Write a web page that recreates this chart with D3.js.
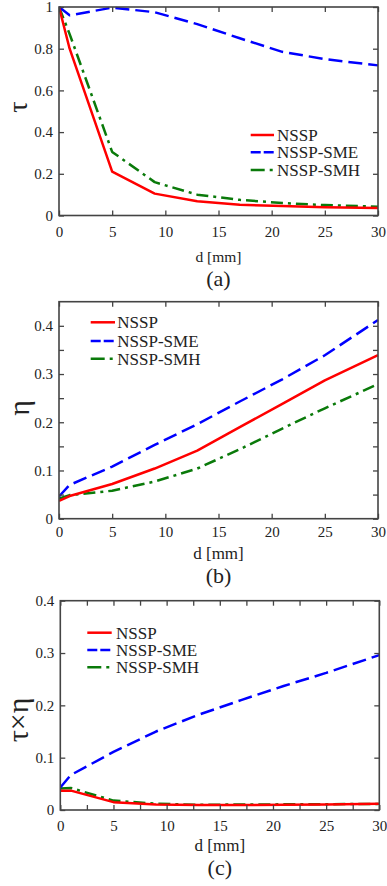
<!DOCTYPE html>
<html>
<head>
<meta charset="utf-8">
<script src="https://cdn.jsdelivr.net/npm/d3@7"></script>
<style>
  html, body { margin: 0; padding: 0; background: #fff; }
  svg { display: block; }
  text { font-family: "Liberation Serif", "Times New Roman", serif; fill: #222; }
</style>
</head>
<body>
<svg id="chart" width="387" height="886"></svg>
<script>
// ---- data ----
const dValues = [0, 1, 5, 9, 13, 17, 21, 25, 30];
const seriesNames = ["NSSP", "NSSP-SME", "NSSP-SMH"];

const tauNSSP = [1.0, 0.80, 0.21, 0.105, 0.068, 0.052, 0.045, 0.040, 0.036];
const tauSME  = [1.0, 0.96, 0.997, 0.975, 0.918, 0.85, 0.785, 0.75, 0.72];
const tauSMH  = [1.0, 0.87, 0.305, 0.16, 0.10, 0.075, 0.060, 0.050, 0.042];

const etaNSSP = [0.037, 0.047, 0.072, 0.104, 0.141, 0.19, 0.238, 0.287, 0.339];
const etaSME  = [0.046, 0.070, 0.108, 0.153, 0.196, 0.243, 0.289, 0.339, 0.412];
const etaSMH  = [0.042, 0.049, 0.058, 0.077, 0.104, 0.144, 0.187, 0.229, 0.279];

const prodNSSP = [0.037, 0.037, 0.015, 0.0105, 0.0095, 0.0095, 0.010, 0.0105, 0.0118];
const prodSME  = [0.043, 0.067, 0.111, 0.150, 0.182, 0.210, 0.237, 0.262, 0.296];
const prodSMH  = [0.041, 0.042, 0.018, 0.012, 0.010, 0.0105, 0.0108, 0.011, 0.0117];

const xTickValues = [0, 5, 10, 15, 20, 25, 30];
const xMinorTicksC = [2.5, 7.5, 12.5, 17.5, 22.5, 27.5];
const yTicksA = [0, 0.2, 0.4, 0.6, 0.8, 1];
const yTicksB = [0, 0.1, 0.2, 0.3, 0.4];
const yMinorTicksB = [0.05, 0.15, 0.25, 0.35];
const yTicksC = [0, 0.1, 0.2, 0.3, 0.4];

const xTitle = "d [mm]";
const panelLabels = ["(a)", "(b)", "(c)"];
const yTitles = ["τ", "η", "τ×η"];

// ---- styles ----
const colors = ["#ff0000", "#0000ff", "#0a7a0a"];
const dashes = [null, "14,6", "12,5,3,5"];
const legendDashes = [null, "10,3", "14,5,3,5"];
const frameColor = "#444";

const svg = d3.select("#chart");

const panels = [
  { left: 59, right: 378, top: 7, bottom: 215.5, yMax: 1, yTicks: yTicksA, yMinor: [], xMinor: [],
    data: [tauNSSP, tauSME, tauSMH], fmt: d3.format("~g"),
    legend: { x1: 250.7, x2: 274, tx: 277, rows: [135, 152.3, 170] },
    xLabelY: 231.7, xTitleY: 257, panelY: 278.5, titleFont: 15.5, yTitleX: 19, yTitleY: 107, yTitleFont: 28 },
  { left: 59, right: 378, top: 301.7, bottom: 518.7, yMax: 0.45, yTicks: yTicksB, yMinor: yMinorTicksB, xMinor: [],
    data: [etaNSSP, etaSME, etaSMH], fmt: d3.format("~g"),
    legend: { x1: 90.7, x2: 115, tx: 117.3, rows: [322.3, 341, 358.7] },
    xLabelY: 531.7, xTitleY: 553, panelY: 575, titleFont: 17, yTitleX: 20, yTitleY: 408, yTitleFont: 30 },
  { left: 60.3, right: 379.3, top: 600.7, bottom: 810, yMax: 0.4, yTicks: yTicksC, yMinor: [], xMinor: xMinorTicksC,
    data: [prodNSSP, prodSME, prodSMH], fmt: d3.format("~g"),
    legend: { x1: 87.3, x2: 111.7, tx: 116, rows: [632.7, 650, 667.3] },
    xLabelY: 825.5, xTitleY: 845.5, panelY: 867.5, titleFont: 17, yTitleX: 19, yTitleY: 720, yTitleFont: 30 }
];

panels.forEach((p, pi) => {
  const x = d3.scaleLinear().domain([0, 30]).range([p.left, p.right]);
  const y = d3.scaleLinear().domain([0, p.yMax]).range([p.bottom, p.top]);
  const g = svg.append("g");
  const w = p.right - p.left, h = p.bottom - p.top;

  const clipId = "clip" + pi;
  svg.append("clipPath").attr("id", clipId).append("rect")
    .attr("x", p.left).attr("y", p.top - 2).attr("width", w + 2).attr("height", h + 2);
  const line = d3.line().x((v, i) => x(dValues[i])).y(v => y(v));
  const lg = g.append("g").attr("clip-path", `url(#${clipId})`);
  [2, 1, 0].forEach(si => {
    lg.append("path")
      .datum(p.data[si])
      .attr("d", line)
      .attr("fill", "none")
      .attr("stroke", colors[si])
      .attr("stroke-width", 2.5)
      .attr("stroke-linejoin", "round")
      .attr("stroke-dasharray", dashes[si]);
  });

  const tickLen = 5;
  const axStyle = sel => {
    sel.select(".domain").remove();
    sel.selectAll(".tick line").attr("stroke", frameColor).attr("stroke-width", 1.3);
    sel.selectAll("text").attr("font-size", 15).attr("fill", "#222")
      .attr("font-family", '"Liberation Serif", "Times New Roman", serif');
  };
  const xBottom = g.append("g").attr("transform", `translate(0,${p.bottom})`)
    .call(d3.axisBottom(x).tickValues(xTickValues).tickSize(-tickLen).tickPadding(0).tickFormat(d3.format("d")));
  axStyle(xBottom);
  xBottom.selectAll(".tick text").attr("y", p.xLabelY - p.bottom).attr("dy", "0.35em");
  g.append("g").attr("transform", `translate(0,${p.top})`)
    .call(d3.axisTop(x).tickValues(xTickValues).tickSize(-tickLen).tickFormat("")).call(axStyle);
  if (p.xMinor.length) {
    g.append("g").attr("transform", `translate(0,${p.bottom})`)
      .call(d3.axisBottom(x).tickValues(p.xMinor).tickSize(-tickLen).tickFormat("")).call(axStyle);
    g.append("g").attr("transform", `translate(0,${p.top})`)
      .call(d3.axisTop(x).tickValues(p.xMinor).tickSize(-tickLen).tickFormat("")).call(axStyle);
  }
  const yLeft = g.append("g").attr("transform", `translate(${p.left},0)`)
    .call(d3.axisLeft(y).tickValues(p.yTicks).tickSize(-tickLen).tickPadding(6).tickFormat(p.fmt));
  axStyle(yLeft);
  g.append("g").attr("transform", `translate(${p.right},0)`)
    .call(d3.axisRight(y).tickValues(p.yTicks).tickSize(-tickLen).tickFormat("")).call(axStyle);
  if (p.yMinor.length) {
    g.append("g").attr("transform", `translate(${p.left},0)`)
      .call(d3.axisLeft(y).tickValues(p.yMinor).tickSize(-tickLen).tickFormat("")).call(axStyle);
    g.append("g").attr("transform", `translate(${p.right},0)`)
      .call(d3.axisRight(y).tickValues(p.yMinor).tickSize(-tickLen).tickFormat("")).call(axStyle);
  }

  g.append("rect").attr("x", p.left).attr("y", p.top).attr("width", w).attr("height", h)
    .attr("fill", "none").attr("stroke", frameColor).attr("stroke-width", 1.6);

  g.append("text").attr("x", (p.left + p.right) / 2).attr("y", p.xTitleY).attr("dy", "0.35em")
    .attr("text-anchor", "middle").attr("font-size", p.titleFont).text(xTitle);
  g.append("text").attr("x", (p.left + p.right) / 2).attr("y", p.panelY).attr("dy", "0.35em")
    .attr("text-anchor", "middle").attr("font-size", 22).text(panelLabels[pi]);
  g.append("text").attr("transform", `translate(${p.yTitleX},${p.yTitleY}) rotate(-90)`)
    .attr("dy", "0.3em").attr("text-anchor", "middle").attr("font-size", p.yTitleFont).text(yTitles[pi]);

  const L = p.legend;
  seriesNames.forEach((name, si) => {
    g.append("line").attr("x1", L.x1).attr("x2", L.x2).attr("y1", L.rows[si]).attr("y2", L.rows[si])
      .attr("stroke", colors[si]).attr("stroke-width", 2.5).attr("stroke-dasharray", legendDashes[si]);
    g.append("text").attr("x", L.tx).attr("y", L.rows[si]).attr("dy", "0.35em")
      .attr("font-size", 17).text(name);
  });
});
</script>
</body>
</html>
